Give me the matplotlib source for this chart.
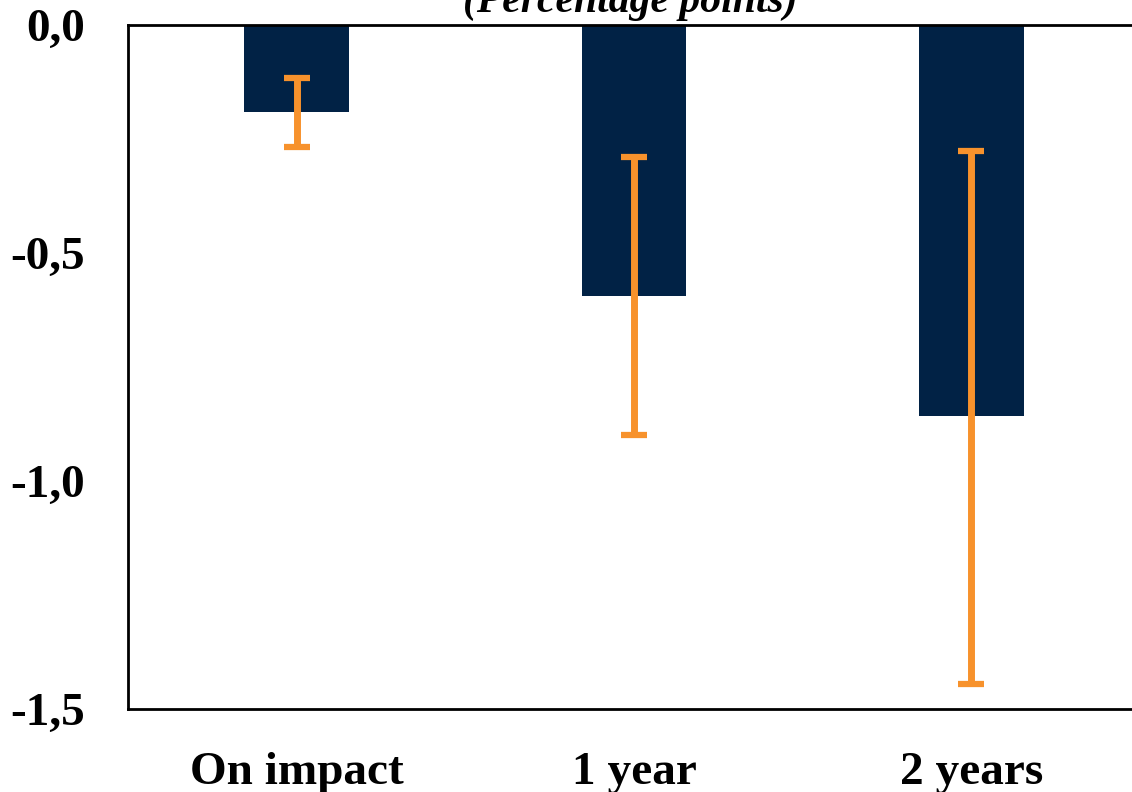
import numpy as np
import matplotlib
matplotlib.use('Agg')
import matplotlib.pyplot as plt

#
# Data
#

categories = ['On impact', '1 year', '2 years']
effect = [-0.19, -0.595, -0.857]
ci_upper = [-0.116, -0.289, -0.276]
ci_lower = [-0.267, -0.899, -1.445]
y_ticks = [0.0, -0.5, -1.0, -1.5]
y_tick_labels = ['0,0', '-0,5', '-1,0', '-1,5']

#
# Graph
#

plt.rcParams['font.family'] = ['Liberation Serif', 'DejaVu Serif']

fig = plt.figure(figsize=(11.32, 7.92), dpi=100)
# axes runs past the right edge of the figure, as in the cropped original
ax = fig.add_axes([128 / 1132, 1 - 709 / 792, 1012 / 1132, 684 / 792])

x = np.arange(len(categories))
ax.bar(x, effect, width=0.31, color='#012245', zorder=2)

err_low = np.array(effect) - np.array(ci_lower)
err_high = np.array(ci_upper) - np.array(effect)
ax.errorbar(x, effect, yerr=[err_low, err_high], fmt='none', ecolor='#F7922C',
            elinewidth=5, capsize=9.7, capthick=4.5, zorder=3)

ax.set_xlim(-0.5, 2.5)
ax.set_ylim(-1.5, 0.0)
ax.set_yticks(y_ticks)
ax.set_yticklabels(y_tick_labels)
ax.set_xticks(x)
ax.set_xticklabels(categories)
ax.tick_params(axis='y', length=0, pad=31, labelsize=34)
ax.tick_params(axis='x', length=0, pad=31, labelsize=34)
for lab in ax.get_xticklabels() + ax.get_yticklabels():
    lab.set_fontweight('bold')

for side in ['left', 'bottom', 'top']:
    ax.spines[side].set_linewidth(2)
    ax.spines[side].set_color('black')
ax.spines['right'].set_visible(False)

fig.text(630 / 1132, 1 - 12 / 792, '(Percentage points)', ha='center', va='baseline',
         fontsize=30, fontweight='bold', fontstyle='italic')

fig.savefig('out.png', dpi=100)
